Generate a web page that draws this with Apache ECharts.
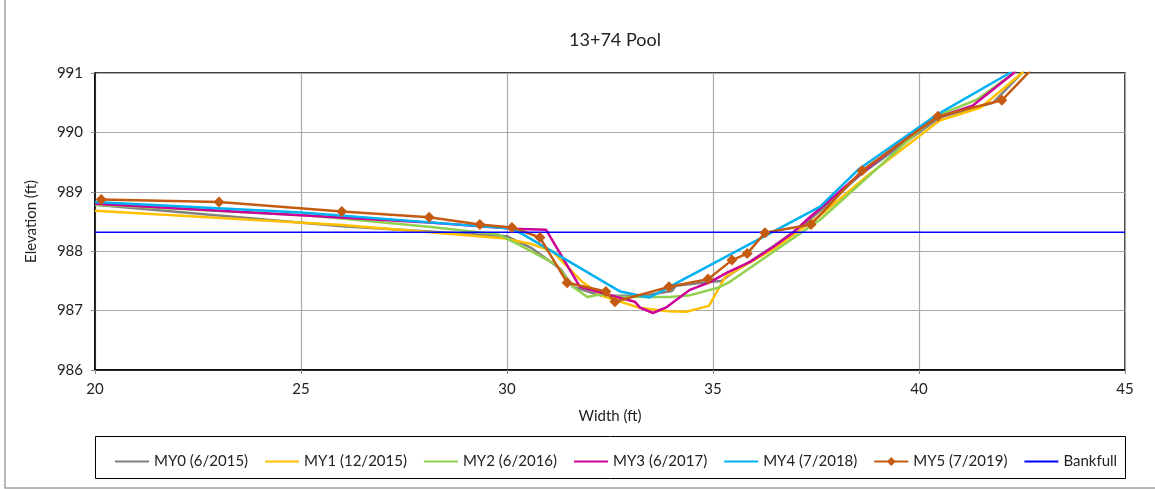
<!doctype html>
<html>
	<head>
		<meta charset="utf-8">
		<title>13+74 Pool</title>
		<style>
			html, body { margin: 0; padding: 0; background: #fff; }
		</style>
	</head>
	<body>
		<div id="container" style="height: 489px; width: 1155px;"></div>

		<script src="https://cdn.jsdelivr.net/npm/echarts@6/dist/echarts.min.js"></script>

		<script>
			// [width (ft), elevation (ft)] pairs
			const my0 = [[20, 988.78], [26.0, 988.42], [30.0, 988.25], [30.6, 988.05], [31.3, 987.7], [31.6, 987.4], [32.3, 987.25], [33.3, 987.25], [34.0, 987.33], [34.1, 987.42], [34.9, 987.48], [35.2, 987.5], [35.4, 987.6], [36.5, 988.1], [37.3, 988.5], [38.6, 989.3], [40.5, 990.25], [41.8, 990.5], [42.5, 991.0], [42.8, 991.3]];
			const my1 = [[20, 988.68], [26.0, 988.44], [29.9, 988.22], [30.6, 988.12], [31.1, 988.0], [31.8, 987.5], [32.3, 987.25], [33.2, 987.05], [33.9, 986.99], [34.35, 986.98], [34.9, 987.08], [35.3, 987.57], [36.5, 988.05], [37.6, 988.6], [38.75, 989.27], [40.5, 990.2], [41.5, 990.42], [42.5, 991.0], [42.8, 991.3]];
			const my2 = [[20, 988.78], [25.2, 988.6], [28.1, 988.41], [29.8, 988.28], [30.4, 988.07], [31.2, 987.77], [31.6, 987.4], [31.95, 987.23], [32.25, 987.27], [32.8, 987.23], [33.5, 987.23], [33.95, 987.23], [34.45, 987.26], [35.1, 987.38], [35.4, 987.48], [37.6, 988.53], [38.5, 989.09], [39.95, 990.0], [40.5, 990.3], [41.4, 990.55], [42.3, 991.0], [42.6, 991.3]];
			const my3 = [[20, 988.8], [25.1, 988.6], [28.2, 988.48], [30.1, 988.38], [30.95, 988.36], [31.77, 987.4], [32.67, 987.23], [33.1, 987.15], [33.23, 987.05], [33.54, 986.96], [33.88, 987.06], [34.44, 987.35], [34.93, 987.48], [35.34, 987.64], [35.9, 987.82], [36.46, 988.07], [36.94, 988.31], [37.28, 988.53], [38.6, 989.32], [40.3, 990.22], [41.3, 990.45], [42.3, 991.0], [42.6, 991.3]];
			const my4 = [[20, 988.83], [25.0, 988.65], [30.1, 988.38], [30.4, 988.28], [32.75, 987.32], [33.45, 987.22], [37.6, 988.75], [38.52, 989.37], [40.44, 990.3], [42.2, 991.0], [42.5, 991.2]];
			const my5 = [[20.15, 988.87], [23.01, 988.83], [25.99, 988.67], [28.11, 988.57], [29.34, 988.45], [30.12, 988.4], [30.8, 988.23], [31.46, 987.47], [32.4, 987.32], [32.62, 987.15], [33.93, 987.4], [34.88, 987.53], [35.46, 987.85], [35.83, 987.96], [36.26, 988.31], [37.38, 988.45], [38.62, 989.36], [40.46, 990.27], [42.01, 990.54], [43.2, 991.4]];
			const bankfull = [[20, 988.32], [45, 988.32]];

			const seriesNames = ['MY0 (6/2015)', 'MY1 (12/2015)', 'MY2 (6/2016)', 'MY3 (6/2017)', 'MY4 (7/2018)', 'MY5 (7/2019)', 'Bankfull'];
			const seriesColors = ['#808080', '#FFC000', '#92D050', '#CC0099', '#00B0F0', '#C55A11', '#0000FF'];
			const seriesData = [my0, my1, my2, my3, my4, my5, bankfull];

			const font = 'Lato, "Open Sans", sans-serif';

			var dom = document.getElementById("container");
			var myChart = echarts.init(dom, null, { renderer: 'canvas' });

			let series = seriesData.map(function (d, i) {
				let isMy5 = i === 5;
				let isBank = i === 6;
				return {
					name: seriesNames[i],
					type: 'line',
					data: d,
					color: seriesColors[i],
					symbol: isMy5 ? 'diamond' : 'none',
					symbolSize: 11,
					showSymbol: isMy5,
					clip: true,
					animation: false,
					lineStyle: {
						width: isBank ? 1.5 : 2.5,
						color: seriesColors[i]
					},
					itemStyle: { color: seriesColors[i] }
				};
			});

			// only MY5 has markers, the rest show a bare line in the legend
			let legendData = seriesNames.map(function (n, i) {
				if (i === 5) return { name: n };
				return { name: n, itemStyle: { opacity: 0 } };
			});

			let opts = {
				animation: false,
				title: {
					text: '13+74 Pool',
					left: 610,
					textAlign: 'center',
					top: 26,
					textStyle: { fontFamily: font, fontSize: 18, fontWeight: 'normal', color: '#222' }
				},
				legend: {
					data: legendData,
					left: 109,
					top: 449,
					itemWidth: 34,
					itemHeight: 11,
					itemGap: 16,
					textStyle: { fontFamily: font, fontSize: 15, color: '#222' }
				},
				graphic: [
					{
						type: 'rect',
						shape: { x: 5, y: -5, width: 1160, height: 493 },
						style: { fill: 'none', stroke: '#a0a0a0', lineWidth: 1.5 },
						silent: true
					},
					{
						type: 'rect',
						shape: { x: 95.5, y: 436.5, width: 1030, height: 42 },
						style: { fill: 'none', stroke: '#000', lineWidth: 1 },
						silent: true
					}
				],
				grid: {
					left: 95,
					right: 30,
					top: 73,
					bottom: 119,
					show: true,
					borderColor: '#000',
					borderWidth: 1.5
				},
				xAxis: {
					type: 'value',
					min: 20,
					max: 45,
					interval: 5,
					name: 'Width (ft)',
					nameLocation: 'middle',
					nameGap: 39,
					nameTextStyle: { fontFamily: font, fontSize: 15, color: '#222' },
					axisLine: { show: true, onZero: false, lineStyle: { color: '#000', width: 1.5 } },
					axisTick: { show: true, length: 4, lineStyle: { color: '#888' } },
					axisLabel: { fontFamily: font, fontSize: 15, color: '#222', margin: 12 },
					splitLine: { show: true, lineStyle: { color: '#aaaaaa', width: 1.2 } }
				},
				yAxis: {
					type: 'value',
					min: 986,
					max: 991,
					interval: 1,
					name: 'Elevation (ft)',
					nameLocation: 'middle',
					nameGap: 56,
					nameTextStyle: { fontFamily: font, fontSize: 15, color: '#222' },
					axisLine: { show: true, onZero: false, lineStyle: { color: '#000', width: 1.5 } },
					axisTick: { show: true, length: 4, lineStyle: { color: '#888' } },
					axisLabel: { fontFamily: font, fontSize: 15, color: '#222', margin: 12 },
					splitLine: { show: true, lineStyle: { color: '#aaaaaa', width: 1.2 } }
				},
				series: series
			};

			myChart.setOption(opts, true);
		</script>
	</body>
</html>
